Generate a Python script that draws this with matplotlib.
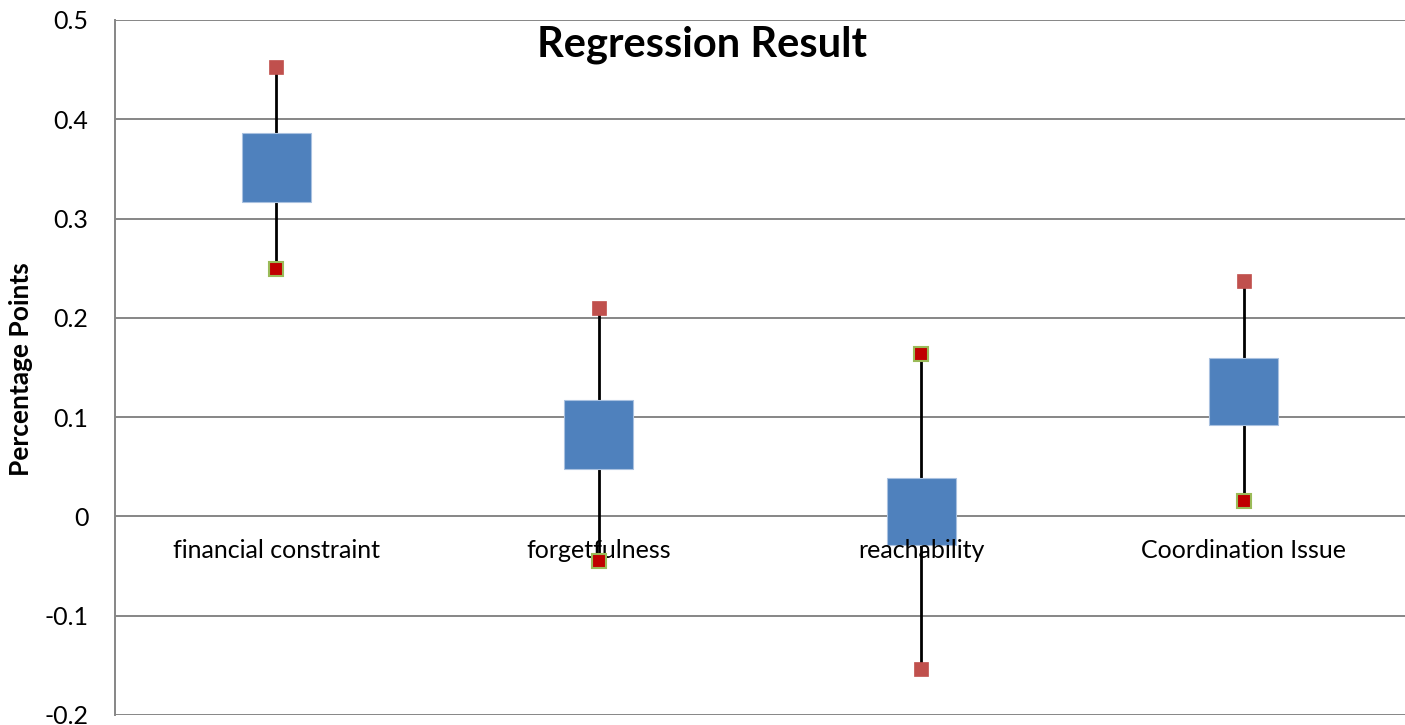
import matplotlib
matplotlib.use("Agg")
import matplotlib.pyplot as plt
import numpy as np

plt.rcParams['font.family'] = ['Lato', 'DejaVu Sans']

# data
categories = ["financial constraint", "forgetfulness", "reachability", "Coordination Issue"]
series_a   = [0.453, 0.210, -0.154, 0.237]   # light red markers
series_b   = [0.249, -0.045, 0.164, 0.016]   # dark red markers, green edge
box_top    = [0.386, 0.117, 0.039, 0.160]
box_bottom = [0.317, 0.048, -0.029, 0.092]
yticks = [-0.2, -0.1, 0, 0.1, 0.2, 0.3, 0.4, 0.5]
ytick_labels = ["-0.2", "-0.1", "0", "0.1", "0.2", "0.3", "0.4", "0.5"]

GRID = "#868686"
x = np.arange(len(categories))
a, b = np.array(series_a), np.array(series_b)
top, bot = np.array(box_top), np.array(box_bottom)

fig = plt.figure(figsize=(14.05, 7.25), dpi=100)
ax = fig.add_axes([115/1405, 1-715/725, 1-115/1405, (715-20)/725])

ax.set_xlim(-0.5, len(categories) - 0.5)
ax.set_ylim(-0.2, 0.5)
ax.set_yticks(yticks)
ax.set_yticklabels(ytick_labels)
ax.tick_params(axis="y", length=0, pad=19, labelsize=18, colors="black")
ax.set_xticks([])
for yv in yticks:
    ax.axhline(yv, color=GRID, lw=1.4, zorder=1)
for s in ("top", "right", "bottom"):
    ax.spines[s].set_visible(False)
ax.spines["left"].set_color(GRID)
ax.spines["left"].set_linewidth(1.4)

# hi-lo lines, up bars, markers
ax.vlines(x, np.minimum(a, b), np.maximum(a, b), color="black", lw=2, zorder=2)
ax.bar(x, top - bot, bottom=bot, width=0.214, color="#4F81BD",
       edgecolor="#A9C1E0", lw=0.8, zorder=3)
ax.plot(x, a, ls="none", marker="s", ms=10.5, mfc="#C0504D", mec="#C0504D", mew=0.5, zorder=5)
ax.plot(x, b, ls="none", marker="s", ms=10.5, mfc="#C00000", mec="#9BBB59", mew=1.5, zorder=5)

for xi, lab in zip(x, categories):
    ax.annotate(lab, (xi, 0), xytext=(0, -16.5), textcoords="offset points",
                ha="center", va="top", fontsize=18, zorder=4)

ax.set_ylabel("Percentage Points", fontsize=19, fontweight="bold")
ax.yaxis.set_label_coords(-0.0635, 0.497)

fig.text(0.4996, 1-57/725, "Regression Result", ha="center", va="baseline",
         fontsize=30, fontweight="bold")

fig.savefig("out.png", dpi=100)
